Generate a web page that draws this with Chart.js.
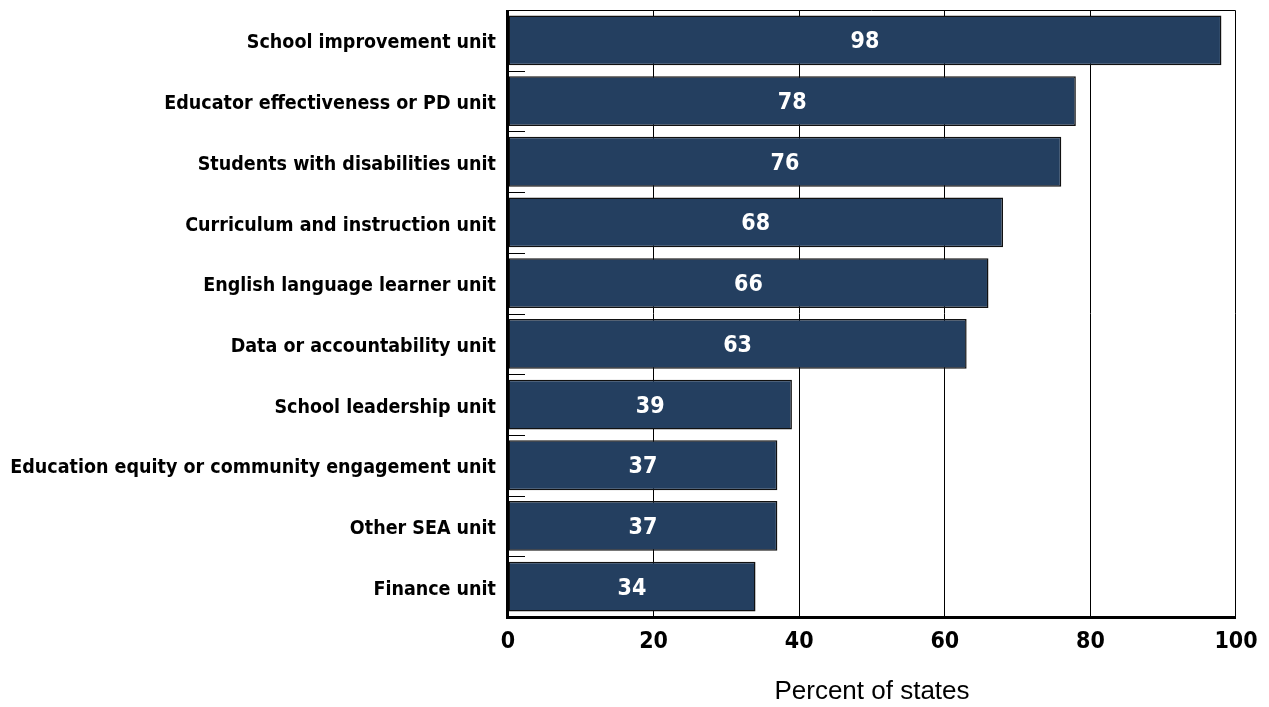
<!DOCTYPE html>
<html>
<head>
<meta charset="utf-8">
<script src="https://cdn.jsdelivr.net/npm/chart.js@4/dist/chart.umd.min.js"></script>
<style>
  html, body { margin: 0; padding: 0; background: #fff; }
  #wrap { width: 1269px; height: 707px; }
</style>
</head>
<body>
<div id="wrap"><canvas id="unitChart"></canvas></div>
<script>
// ============================= data

const units = [
    'School improvement unit',
    'Educator effectiveness or PD unit',
    'Students with disabilities unit',
    'Curriculum and instruction unit',
    'English language learner unit',
    'Data or accountability unit',
    'School leadership unit',
    'Education equity or community engagement unit',
    'Other SEA unit',
    'Finance unit'
];
const percentStates = [98, 78, 76, 68, 66, 63, 39, 37, 37, 34];
const xTicks = [0, 20, 40, 60, 80, 100];

const condensed = '"DejaVu Sans Condensed", "Liberation Sans Narrow", "Open Sans", sans-serif';

// ============================= little plugins

// value labels inside the bars
const barLabels = {
    id: 'barLabels',
    afterDatasetsDraw(chart) {
        const ctx = chart.ctx;
        const meta = chart.getDatasetMeta(0);
        ctx.save();
        ctx.fillStyle = '#fff';
        ctx.font = 'bold 23px ' + condensed;
        ctx.textAlign = 'center';
        ctx.textBaseline = 'middle';
        meta.data.forEach((bar, i) => {
            const x = (bar.base + bar.x) / 2;
            ctx.fillText(String(percentStates[i]), x, bar.y + 2);
        });
        ctx.restore();
    }
};

// short tick marks between categories + plot frame
const frame = {
    id: 'frame',
    afterDraw(chart) {
        const ctx = chart.ctx;
        const a = chart.chartArea;
        const y = chart.scales.y;
        const step = y.getPixelForValue(1) - y.getPixelForValue(0);
        ctx.save();
        ctx.strokeStyle = '#000';
        ctx.lineWidth = 1;
        for (let i = 0; i < units.length; i++) {
            const py = Math.round(y.getPixelForValue(i) - step / 2) + 0.5;
            ctx.beginPath();
            ctx.moveTo(a.left, py);
            ctx.lineTo(a.left + 17, py);
            ctx.stroke();
        }
        ctx.beginPath();
        ctx.moveTo(a.left, a.top + 0.5);
        ctx.lineTo(a.right - 0.5, a.top + 0.5);
        ctx.lineTo(a.right - 0.5, a.bottom);
        ctx.stroke();
        ctx.lineWidth = 3;
        ctx.beginPath();
        ctx.moveTo(a.left - 0.5, a.top);
        ctx.lineTo(a.left - 0.5, a.bottom + 0.5);
        ctx.lineTo(a.right, a.bottom + 0.5);
        ctx.stroke();
        ctx.restore();
    }
};

// ============================= chart

const ctx = document.getElementById('unitChart').getContext('2d');
const unitChart = new Chart(ctx, {
    type: 'bar',
    data: {
        labels: units,
        datasets: [{
            data: percentStates,
            backgroundColor: '#243f60',
            borderColor: '#111',
            borderWidth: 1.5,
            borderSkipped: false,
            barPercentage: 0.82,
            categoryPercentage: 1
        }]
    },
    options: {
        indexAxis: 'y',
        responsive: true,
        maintainAspectRatio: false,
        animation: false,
        layout: { padding: { top: 10, right: 33, left: 0, bottom: 0 } },
        plugins: {
            legend: { display: false },
            tooltip: { enabled: false }
        },
        scales: {
            x: {
                min: 0,
                max: 100,
                afterBuildTicks(scale) {
                    scale.ticks = xTicks.map(v => ({ value: v }));
                },
                afterFit(scale) {
                    scale.height = 90;
                    scale.paddingLeft = 0;
                    scale.paddingRight = 0;
                },
                grid: {
                    color: (c) => (c.tick && (c.tick.value === 0 || c.tick.value === 100)) ? 'rgba(0,0,0,0)' : '#000',
                    lineWidth: 1,
                    drawTicks: false
                },
                border: { display: false },
                ticks: {
                    color: '#000',
                    padding: 11,
                    font: { family: condensed, size: 23, weight: 'bold' }
                },
                title: {
                    display: true,
                    text: 'Percent of states',
                    color: '#000',
                    padding: { top: 20, bottom: 0 },
                    font: { family: 'Arial, "Liberation Sans", sans-serif', size: 26 }
                }
            },
            y: {
                afterFit(scale) {
                    scale.width = 508;
                    scale.paddingTop = 0;
                    scale.paddingBottom = 0;
                },
                grid: { display: false, drawTicks: false },
                border: { display: false },
                ticks: {
                    color: '#000',
                    padding: 12,
                    labelOffset: 3,
                    font: { family: condensed, size: 19.5, weight: 'bold' }
                }
            }
        }
    },
    plugins: [barLabels, frame]
});
</script>
</body>
</html>
